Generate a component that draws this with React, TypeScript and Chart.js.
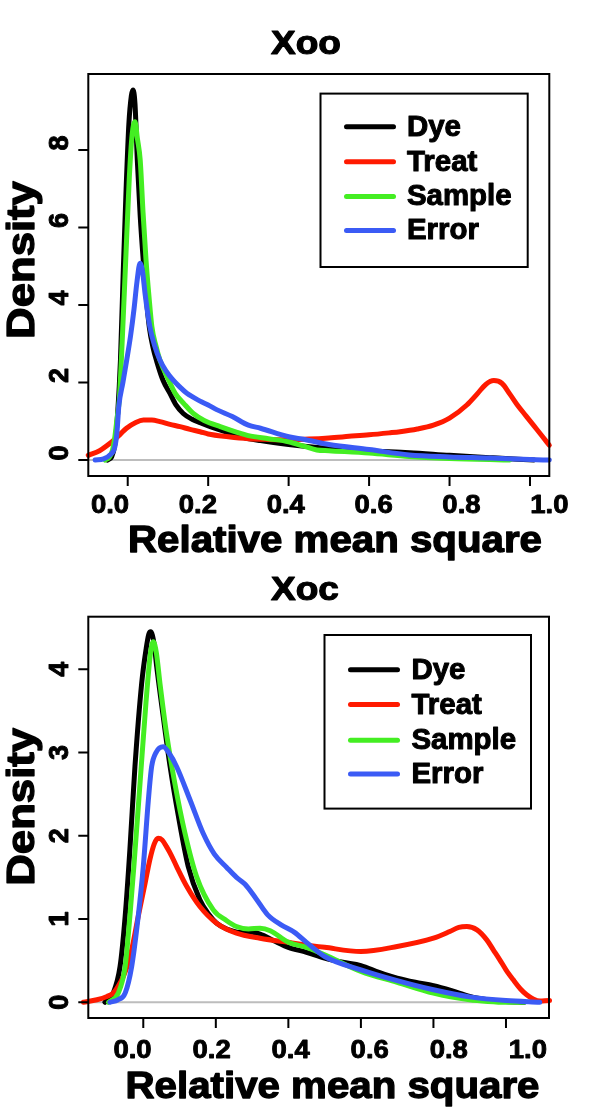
import React, { useEffect, useRef } from "react";
import { Chart, registerables } from "chart.js";
Chart.register(...registerables);

// ---------- DATA ----------
const seriesNames = ["Dye", "Treat", "Sample", "Error"];
const seriesColors = ["#000000", "#ff1a00", "#44ee22", "#3b5bf5"];

const xTickValues = [0, 0.2, 0.4, 0.6, 0.8, 1.0];
const xTickLabels = ["0.0", "0.2", "0.4", "0.6", "0.8", "1.0"];
const xooYTicks = [0, 2, 4, 6, 8];
const xocYTicks = [0, 1, 2, 3, 4];

// Xoo panel
const xooDyeX = [-0.05, -0.04, -0.032, -0.025, -0.018, -0.011, -0.004, 0.003, 0.009, 0.013, 0.018, 0.024, 0.031, 0.039, 0.046, 0.054, 0.063, 0.072, 0.088, 0.105, 0.12, 0.138, 0.16, 0.18, 0.205, 0.24, 0.28, 0.33, 0.4, 0.5, 0.6, 0.7, 0.8, 0.9, 0.97, 1.01];
const xooDyeY = [0, 0.08, 0.4, 1.2, 2.6, 4.9, 7.0, 8.7, 9.4, 9.55, 9.2, 7.7, 6.3, 5.1, 4.2, 3.4, 2.9, 2.55, 2.05, 1.72, 1.42, 1.2, 1.05, 0.96, 0.86, 0.74, 0.6, 0.5, 0.4, 0.3, 0.23, 0.19, 0.12, 0.06, 0.02, 0];
const xooTreatX = [-0.098, -0.07, -0.044, -0.02, -0.003, 0.02, 0.039, 0.06, 0.08, 0.105, 0.13, 0.155, 0.18, 0.2, 0.25, 0.3, 0.35, 0.4, 0.45, 0.5, 0.55, 0.6, 0.65, 0.677, 0.72, 0.76, 0.8, 0.843, 0.87, 0.89, 0.91, 0.93, 0.95, 0.97, 0.99, 1.01, 1.03, 1.048];
const xooTreatY = [0.12, 0.24, 0.43, 0.65, 0.82, 0.97, 1.03, 1.03, 0.99, 0.92, 0.86, 0.79, 0.73, 0.67, 0.6, 0.55, 0.53, 0.52, 0.54, 0.57, 0.61, 0.65, 0.7, 0.73, 0.8, 0.9, 1.08, 1.42, 1.72, 1.95, 2.05, 1.98, 1.7, 1.4, 1.14, 0.88, 0.62, 0.38];
const xooSampleX = [-0.056, -0.045, -0.038, -0.032, -0.026, -0.021, -0.014, -0.005, 0.004, 0.011, 0.018, 0.024, 0.031, 0.038, 0.0455, 0.053, 0.06, 0.07, 0.08, 0.1, 0.118, 0.14, 0.163, 0.19, 0.23, 0.27, 0.3, 0.35, 0.4, 0.44, 0.47, 0.5, 0.6, 0.7, 0.8, 0.9, 0.95];
const xooSampleY = [0, 0.08, 0.25, 0.6, 1.12, 1.55, 3.0, 5.16, 7.3, 8.4, 8.73, 8.3, 7.74, 6.4, 5.16, 4.2, 3.44, 2.95, 2.58, 2.1, 1.72, 1.45, 1.2, 1.02, 0.86, 0.72, 0.63, 0.55, 0.47, 0.35, 0.26, 0.24, 0.18, 0.09, 0.04, 0.01, 0];
const xooErrorX = [-0.081, -0.06, -0.044, -0.032, -0.027, -0.022, -0.012, -0.0025, 0.007, 0.0157, 0.023, 0.0306, 0.037, 0.043, 0.055, 0.067, 0.08, 0.095, 0.113, 0.13, 0.147, 0.18, 0.2, 0.221, 0.26, 0.3, 0.33, 0.4, 0.44, 0.5, 0.6, 0.7, 0.8, 0.9, 1.0, 1.048];
const xooErrorY = [0, 0.03, 0.13, 0.34, 0.69, 1.4, 2.0, 2.58, 3.2, 3.9, 4.6, 5.08, 4.85, 4.3, 3.44, 2.95, 2.58, 2.3, 2.06, 1.88, 1.72, 1.52, 1.42, 1.3, 1.12, 0.9, 0.82, 0.6, 0.53, 0.4, 0.27, 0.13, 0.08, 0.05, 0.01, 0];

// Xoc panel
const xocDyeX = [-0.106, -0.083, -0.064, -0.05, -0.037, -0.023, -0.0045, 0.008, 0.015, 0.0204, 0.03, 0.037, 0.055, 0.074, 0.097, 0.124, 0.156, 0.18, 0.202, 0.23, 0.267, 0.3, 0.322, 0.36, 0.4, 0.45, 0.5, 0.55, 0.6, 0.65, 0.7, 0.75, 0.8, 0.85, 0.9, 0.95, 1.0, 1.05];
const xocDyeY = [0, 0.11, 0.43, 1.03, 1.83, 2.83, 3.83, 4.25, 4.42, 4.45, 4.3, 4.03, 3.43, 2.83, 2.23, 1.63, 1.23, 1.06, 0.95, 0.88, 0.84, 0.84, 0.82, 0.74, 0.66, 0.6, 0.53, 0.48, 0.44, 0.36, 0.29, 0.24, 0.2, 0.14, 0.07, 0.03, 0.01, 0];
const xocTreatX = [-0.165, -0.128, -0.1, -0.083, -0.068, -0.055, -0.043, -0.032, -0.014, 0.005, 0.018, 0.03, 0.041, 0.052, 0.064, 0.078, 0.092, 0.12, 0.156, 0.202, 0.257, 0.322, 0.4, 0.5, 0.6, 0.7, 0.8, 0.845, 0.87, 0.892, 0.92, 0.947, 0.965, 0.983, 1.0, 1.02, 1.04, 1.057, 1.075, 1.094, 1.12, 1.15];
const xocTreatY = [0, 0.03, 0.07, 0.11, 0.2, 0.31, 0.45, 0.63, 1.03, 1.43, 1.71, 1.9, 1.97, 1.95, 1.87, 1.76, 1.63, 1.39, 1.15, 0.95, 0.83, 0.77, 0.72, 0.66, 0.61, 0.67, 0.77, 0.85, 0.9, 0.91, 0.87, 0.75, 0.63, 0.51, 0.39, 0.27, 0.16, 0.09, 0.04, 0.015, 0.02, 0];
const xocSampleX = [-0.096, -0.069, -0.05, -0.037, -0.026, -0.009, 0.0074, 0.02, 0.0276, 0.036, 0.046, 0.064, 0.087, 0.115, 0.147, 0.193, 0.23, 0.257, 0.29, 0.322, 0.35, 0.4, 0.45, 0.5, 0.6, 0.7, 0.8, 0.9, 0.95, 1.0, 1.05];
const xocSampleY = [0, 0.11, 0.43, 1.03, 1.63, 2.63, 3.6, 4.2, 4.33, 4.2, 3.83, 3.23, 2.63, 2.03, 1.51, 1.11, 0.98, 0.91, 0.88, 0.89, 0.86, 0.72, 0.66, 0.57, 0.37, 0.24, 0.11, 0.03, 0.01, 0, 0];
const xocErrorX = [-0.092, -0.07, -0.05, -0.032, -0.014, 0.0, 0.014, 0.023, 0.035, 0.055, 0.07, 0.092, 0.129, 0.165, 0.196, 0.23, 0.257, 0.28, 0.31, 0.343, 0.38, 0.417, 0.45, 0.5, 0.6, 0.7, 0.8, 0.9, 1.0, 1.093];
const xocErrorY = [0, 0.03, 0.11, 0.43, 1.03, 1.63, 2.43, 2.83, 3.0, 3.07, 3.0, 2.83, 2.43, 2.03, 1.78, 1.62, 1.5, 1.42, 1.25, 1.05, 0.93, 0.84, 0.72, 0.55, 0.39, 0.26, 0.15, 0.065, 0.02, 0];

// ---------- PANEL SETTINGS ----------
type Layout = {
  height: number;
  pad: { left: number; right: number; top: number; bottom: number };
  xMin: number; xMax: number; yMin: number; yMax: number;
  title: string; titleX: number; titleBase: number;
  xTitleX: number; xTitleBase: number;
  xLabBase: number; xLabCenter: number; xLabSpread: number;
  yLabBaseX: number; yLabShift: number;
  densX: number; densY: number;
  legBox: number[]; legRows: number[]; legLine: number[]; legTextX: number;
};

const xooLayout: Layout = {
  height: 566,
  pad: { left: 88.3, right: 50.7, top: 74, bottom: 90 },
  xMin: -0.098, xMax: 1.048, yMin: -0.413, yMax: 9.961,
  title: "Xoo", titleX: 306, titleBase: 53.6,
  xTitleX: 335, xTitleBase: 551.7,
  xLabBase: 513, xLabCenter: 320, xLabSpread: 1.092,
  yLabBaseX: 68, yLabShift: -7,
  densX: 34, densY: 260,
  legBox: [320.5, 93.6, 527.7, 267], legRows: [126.8, 161.8, 196.4, 230.4], legLine: [346.5, 393.5], legTextX: 407,
};

const xocLayout: Layout = {
  height: 547,
  pad: { left: 88.3, right: 51, top: 50.7, bottom: 95 },
  xMin: -0.1516, xMax: 1.1186, yMin: -0.189, yMax: 4.632,
  title: "Xoc", titleX: 305, titleBase: 34.3,
  xTitleX: 332.5, xTitleBase: 532,
  xLabBase: 492, xLabCenter: 263, xLabSpread: 1.09,
  yLabBaseX: 68.3, yLabShift: 0,
  densX: 34, densY: 240.8,
  legBox: [324.5, 69, 531, 242.6], legRows: [103.7, 138.5, 174.3, 208], legLine: [350.5, 397.5], legTextX: 411.5,
};

const FONT = '"Liberation Sans", Arial, Helvetica, sans-serif';

function drawText(ctx: CanvasRenderingContext2D, text: string, x: number, y: number, px: number, align: CanvasTextAlign, sx = 1, rotate = false) {
  ctx.save();
  ctx.translate(x, y);
  if (rotate) ctx.rotate(-Math.PI / 2);
  ctx.scale(sx, 1);
  ctx.font = `bold ${px}px ${FONT}`;
  ctx.fillStyle = "#000";
  ctx.strokeStyle = "#000";
  ctx.lineWidth = px * 0.035;
  ctx.lineJoin = "round";
  ctx.textAlign = align;
  ctx.textBaseline = "alphabetic";
  ctx.fillText(text, 0, 0);
  ctx.strokeText(text, 0, 0);
  ctx.restore();
}

function makeDecor(L: Layout, yTicks: number[]) {
  return {
    id: "decor",
    beforeDatasetsDraw(chart: any) {
      const ctx = chart.ctx as CanvasRenderingContext2D;
      const a = chart.chartArea;
      const y0 = chart.scales.y.getPixelForValue(0);
      ctx.save();
      ctx.strokeStyle = "#bdbdbd";
      ctx.lineWidth = 2;
      ctx.beginPath();
      ctx.moveTo(a.left, y0);
      ctx.lineTo(a.right, y0);
      ctx.stroke();
      ctx.restore();
    },
    afterDraw(chart: any) {
      const ctx = chart.ctx as CanvasRenderingContext2D;
      const a = chart.chartArea;
      const xs = chart.scales.x;
      const ys = chart.scales.y;
      ctx.save();
      ctx.strokeStyle = "#000";
      ctx.lineWidth = 2;
      ctx.strokeRect(a.left, a.top, a.right - a.left, a.bottom - a.top);
      ctx.beginPath();
      xTickValues.forEach((v) => {
        const px = xs.getPixelForValue(v);
        ctx.moveTo(px, a.bottom);
        ctx.lineTo(px, a.bottom + 10);
      });
      yTicks.forEach((v) => {
        const py = ys.getPixelForValue(v);
        ctx.moveTo(a.left, py);
        ctx.lineTo(a.left - 10, py);
      });
      ctx.stroke();
      ctx.restore();

      xTickValues.forEach((v, i) => {
        const px = xs.getPixelForValue(v);
        const lx = L.xLabCenter + (px - L.xLabCenter) * L.xLabSpread;
        drawText(ctx, xTickLabels[i], lx, L.xLabBase, 25, "center", 1.1);
      });
      yTicks.forEach((v) => {
        const py = ys.getPixelForValue(v);
        drawText(ctx, String(v), L.yLabBaseX, py + L.yLabShift, 27, "center", 1, true);
      });

      drawText(ctx, L.title, L.titleX, L.titleBase, 33, "center", 1.12);
      drawText(ctx, "Relative mean square", L.xTitleX, L.xTitleBase, 37, "center", 1.088);
      drawText(ctx, "Density", L.densX, L.densY, 38, "center", 1.15, true);

      const [bx0, by0, bx1, by1] = L.legBox;
      ctx.save();
      ctx.strokeStyle = "#000";
      ctx.lineWidth = 2;
      ctx.strokeRect(bx0, by0, bx1 - bx0, by1 - by0);
      ctx.lineCap = "round";
      ctx.lineWidth = 5;
      L.legRows.forEach((ry, i) => {
        ctx.strokeStyle = seriesColors[i];
        ctx.beginPath();
        ctx.moveTo(L.legLine[0], ry);
        ctx.lineTo(L.legLine[1], ry);
        ctx.stroke();
      });
      ctx.restore();
      L.legRows.forEach((ry, i) => {
        drawText(ctx, seriesNames[i], L.legTextX, ry + 9, 30, "left", 0.98);
      });
    },
  };
}

function Panel({ layout, xs, ys, yTicks }: { layout: Layout; xs: number[][]; ys: number[][]; yTicks: number[] }) {
  const ref = useRef<HTMLCanvasElement | null>(null);
  useEffect(() => {
    if (!ref.current) return;
    const datasets = xs.map((xArr, si) => ({
      label: seriesNames[si],
      data: xArr.map((x, i) => ({ x, y: ys[si][i] })),
      borderColor: seriesColors[si],
      backgroundColor: seriesColors[si],
      borderWidth: 5,
      pointRadius: 0,
      fill: false,
      cubicInterpolationMode: "monotone" as const,
      borderCapStyle: "round" as const,
      borderJoinStyle: "round" as const,
      clip: false as any,
      order: 4 - si,
    }));
    const chart = new Chart(ref.current, {
      type: "line",
      data: { datasets },
      options: {
        responsive: false,
        animation: false,
        events: [],
        layout: { padding: layout.pad },
        plugins: { legend: { display: false }, title: { display: false }, tooltip: { enabled: false } },
        scales: {
          x: { type: "linear", min: layout.xMin, max: layout.xMax, display: false },
          y: { type: "linear", min: layout.yMin, max: layout.yMax, display: false },
        },
      },
      plugins: [makeDecor(layout, yTicks)],
    } as any);
    return () => chart.destroy();
  }, []);
  return <canvas ref={ref} width={600} height={layout.height} style={{ display: "block", width: 600, height: layout.height }} />;
}

export default function App() {
  return (
    <div style={{ position: "absolute", left: 0, top: 0, width: 600, height: 1113, background: "#fff" }}>
      <Panel
        layout={xooLayout}
        xs={[xooDyeX, xooTreatX, xooSampleX, xooErrorX]}
        ys={[xooDyeY, xooTreatY, xooSampleY, xooErrorY]}
        yTicks={xooYTicks}
      />
      <Panel
        layout={xocLayout}
        xs={[xocDyeX, xocTreatX, xocSampleX, xocErrorX]}
        ys={[xocDyeY, xocTreatY, xocSampleY, xocErrorY]}
        yTicks={xocYTicks}
      />
    </div>
  );
}
